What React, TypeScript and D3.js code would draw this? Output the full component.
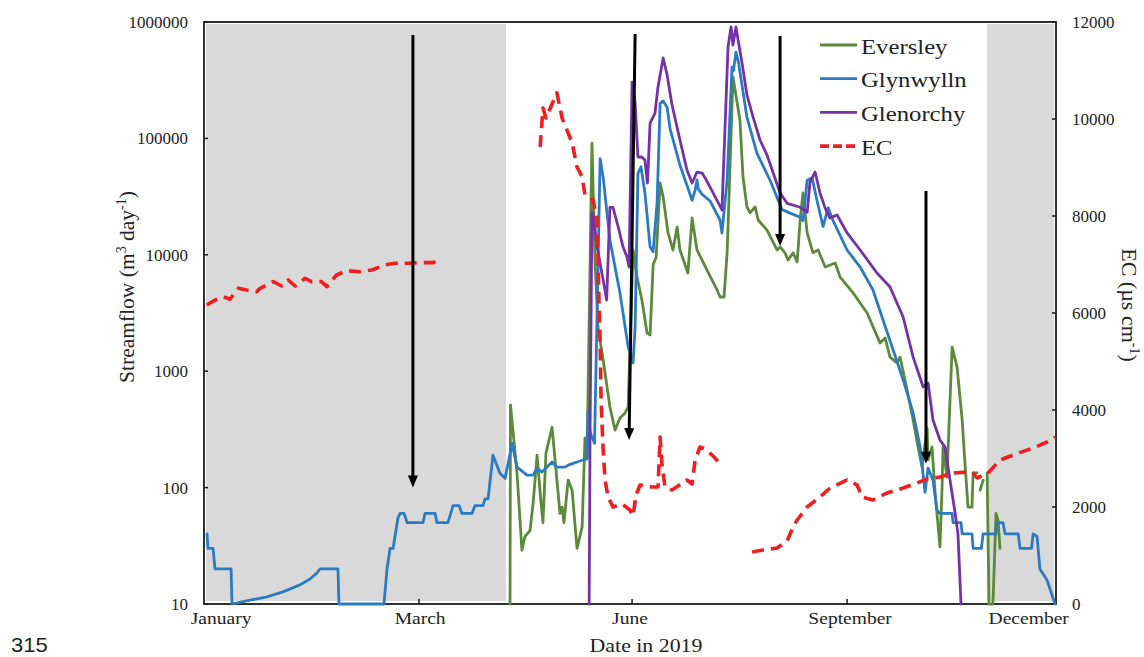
import React from 'react';
import * as d3 from 'd3';

// [day of 2019, value]; a null value breaks the line
type Pt = [number, number | null];

const monthLabels = ['January', 'March', 'June', 'September', 'December'];
const monthLabelDays = [7.3, 92.6, 182.5, 276.8, 353.3];
const monthTickDays = [92.1, 183.4, 275.5];
const flowTicks = [10, 100, 1000, 10000, 100000, 1000000];
const ecTicks = [0, 2000, 4000, 6000, 8000, 10000, 12000];
// shaded no-flow / dry periods (day ranges)
const dryPeriods: [number, number][] = [[0, 129.4], [335.5, 365]];

// streamflow, m3/day
const eversley: Pt[] = [
  [131.1, 10], [131.3, 513], [134.1, 133], [136.2, 29], [137.5, 38], [139.7, 43], [141.0, 74],
  [142.7, 190], [144.0, 90], [145.2, 50], [146.5, 198], [149.1, 330], [151.2, 116], [152.5, 60],
  [153.4, 68], [154.2, 50], [156.0, 116], [157.7, 95], [159.8, 30], [162.0, 46], [163.2, 267],
  [164.1, 183], [166.2, 91000], [167.5, 9020], [168.8, 2400], [171.0, 1250], [173.9, 492],
  [176.1, 312], [178.2, 396], [180.4, 438], [181.7, 492], [183.8, 11000], [185.5, 6440],
  [187.6, 4090], [189.8, 2130], [191.1, 2050], [192.4, 8170], [193.7, 9570], [195.4, 41400],
  [196.7, 31400], [198.8, 15400], [200.9, 11000], [202.7, 17300], [203.9, 11000], [207.3, 6980],
  [209.1, 20700], [211.2, 11000], [215.5, 7400], [219.8, 4990], [221.1, 4340], [222.8, 4340],
  [224.1, 10400], [224.5, 17300], [226.6, 337000], [229.6, 144000], [230.9, 46600], [232.6, 25800],
  [233.9, 22900], [236.1, 25800], [237.4, 19900], [241.2, 16300], [245.5, 11000], [246.8, 11700],
  [248.9, 10400], [250.2, 9020], [252.4, 10400], [254.1, 8670], [255.4, 19900], [256.6, 34000],
  [258.4, 15400], [260.9, 10400], [263.1, 11000], [266.1, 7850], [270.4, 8510], [272.5, 6440],
  [278.1, 4700], [284.1, 3160], [289.6, 1750], [291.8, 1930], [293.9, 1320], [296.9, 1180],
  [298.2, 1320], [301.2, 689], [303.8, 381], [305.9, 223], [307.6, 150], [309.8, 325], [310.2, 173],
  [311.9, 223], [313.2, 90], [315.3, 31], [316.2, 101], [316.6, 223], [318.3, 123], [320.5, 1610],
  [322.6, 1090], [324.8, 381], [326.0, 163], [327.3, 68], [329.0, 68], [329.5, 134], [331.2, 134],
  [331.8, null], [332.5, 95], [333.8, 116], [334.6, null], [335.5, 134], [336.3, 10], [338.0, 10],
  [339.3, 60], [340.2, 52], [341.0, 30],
];

const glynwylln: Pt[] = [
  [1.3, 40], [1.7, 30], [3.9, 30], [4.7, 20], [11.6, 20], [12.0, 10], [19.7, 10.8], [27.0, 11.5],
  [33.8, 12.7], [41.1, 14.6], [45.4, 16.4], [48.4, 18.5], [49.7, 20], [57.4, 20], [57.8, 10],
  [77.1, 10], [78.4, 20], [79.7, 30], [81.0, 30], [83.1, 55], [84.0, 60], [85.7, 60], [87.0, 50],
  [93.8, 50], [94.7, 60], [99.0, 60], [99.8, 50], [104.5, 50], [106.7, 70], [109.3, 70], [110.5, 60],
  [114.8, 60], [116.1, 70], [119.5, 70], [120.4, 80], [121.7, 80], [123.8, 190], [126.8, 133],
  [129.0, 120], [132.0, 240], [134.1, 150], [138.4, 128], [141.0, 128], [142.7, 147], [144.8, 136],
  [149.1, 166], [151.2, 150], [154.7, 150], [156.0, 156], [159.8, 166], [163.7, 176], [164.1, 176],
  [164.5, 450], [165.4, 300], [167.3, 240], [169.7, 67000], [171.0, 46500], [173.9, 13400],
  [178.2, 4700], [181.7, 1620], [183.8, 1180], [184.7, 2400], [185.9, 50000], [187.2, 57000],
  [188.9, 34000], [191.1, 11700], [192.4, 10600], [194.1, 27900], [195.4, 199000], [196.7, 210000],
  [198.4, 185000], [199.7, 120000], [203.9, 59000], [209.1, 29400], [210.4, 36000], [211.2, 44000],
  [211.7, 37000], [213.4, 33000], [216.8, 29000], [221.1, 19800], [221.9, 15400], [224.1, 43700],
  [226.2, 410000], [226.8, 380000], [227.9, 550000], [229.0, 447000], [232.6, 152000],
  [236.9, 74300], [242.5, 43700], [247.6, 24500], [251.1, 22800], [255.4, 21000], [256.6, 19700],
  [258.4, 43700], [260.5, 46000], [262.6, 29400], [265.2, 17500], [267.4, 25300], [269.5, 19700],
  [275.5, 11000], [281.1, 7850], [286.6, 4980], [290.9, 2750], [295.2, 1530], [299.5, 845],
  [303.8, 438], [306.8, 223], [308.9, 91], [310.2, 147], [312.3, 116], [314.0, 64], [315.3, 60],
  [320.5, 60], [320.9, 50], [324.3, 50], [324.8, 40], [329.0, 40], [329.5, 30], [333.0, 30],
  [333.8, 40], [339.3, 40], [339.8, 50], [342.3, 50], [343.2, 40], [348.8, 40], [349.6, 30],
  [354.5, 30], [355.2, 40], [356.9, 38], [358.1, 20], [361.2, 16], [364.6, 10],
];

const glenorchy: Pt[] = [
  [165.0, 10], [165.4, 332], [166.2, 22900], [167.1, 19700], [168.4, 11700], [171.0, 6080],
  [172.5, 4090], [173.9, 25600], [175.2, 25600], [177.4, 17500], [179.5, 11700], [181.2, 9580],
  [182.1, 7850], [183.4, 305000], [184.7, 201000], [185.9, 69200], [187.6, 69200], [188.9, 65200],
  [190.0, 41400], [191.1, 135000], [193.2, 165000], [194.5, 277000], [196.7, 491000],
  [198.4, 351000], [200.5, 194000], [203.9, 96900], [206.9, 53500], [209.1, 41400], [211.2, 51400],
  [213.4, 50400], [214.7, 45700], [216.8, 38200], [221.9, 24300], [224.5, 610000], [225.8, 906000],
  [226.6, 634000], [227.9, 906000], [228.8, 700000], [230.5, 445000], [232.6, 236000],
  [235.2, 153000], [238.2, 96900], [241.2, 71900], [246.8, 34000], [249.8, 27700], [255.4, 25600],
  [258.4, 23200], [259.6, 42200], [261.8, 51400], [263.9, 34000], [266.1, 25200], [268.2, 20700],
  [271.2, 22000], [275.5, 15400], [281.1, 11000], [288.3, 6980], [293.9, 5290], [299.5, 2920],
  [303.8, 1320], [308.1, 731], [310.2, 792], [312.3, 381], [315.3, 256], [317.5, 223], [319.6, 116],
  [321.8, 60], [323.0, 40], [324.3, 10],
];

// electrical conductivity, µs/cm
const ec: Pt[] = [
  [1.2, 6165], [4.0, 6248], [8.3, 6337], [11.1, 6283], [14.7, 6510], [18.3, 6475], [22.6, 6440],
  [24.0, 6510], [29.7, 6646], [33.3, 6557], [36.1, 6681], [39.0, 6557], [43.3, 6716], [46.1, 6646],
  [50.4, 6646], [52.6, 6543], [56.8, 6784], [61.1, 6873], [66.8, 6852], [71.9, 6887], [77.5, 6990],
  [81.8, 7025], [87.5, 7025], [92.5, 7038], [98.2, 7038], [101.1, 7128], [102, null],
  [144.0, 9423], [145.2, 10228], [146.5, 10021], [151.2, 10537], [153.4, 10021], [155.5, 9774],
  [157.7, 9506], [159.8, 9011], [162.0, 8805], [163.2, 8434], [166.7, 8330], [168.4, 7918],
  [169.2, 6268], [169.7, 5444], [170.1, 4206], [171.0, 3175], [171.8, 2557], [173.1, 2206],
  [175.2, 2000], [179.1, 2062], [182.5, 1938], [183.8, 1815], [185.1, 2248], [186.8, 2454],
  [191.9, 2413], [194.5, 2413], [195.4, 3444], [196.2, 2866], [197.5, 2413], [200.5, 2351],
  [201.8, 2392], [206.9, 2557], [209.1, 2474], [210.4, 2969], [212.5, 3237], [214.7, 3196],
  [218.1, 3052], [221.9, 2846], [223, null],
  [234.8, 1072], [239.5, 1113], [245.5, 1155], [249.8, 1299], [252.4, 1588], [254.1, 1732],
  [258.4, 2000], [263.9, 2206], [268.2, 2392], [275.5, 2557], [279.8, 2454], [281.9, 2206],
  [286.6, 2144], [292.6, 2289], [299.5, 2392], [305.5, 2495], [309.8, 2578], [315.3, 2619],
  [320.9, 2701], [326.9, 2722], [329.5, 2701], [331.2, 2598], [335.9, 2701], [341.0, 2969],
  [346.6, 3072], [355.2, 3217], [361.2, 3340], [364.6, 3444],
];

// annotation arrows: start/end as [day, streamflow]
const arrowFrom: [number, number][] = [[89.5, 773000], [184.7, 789000], [246.8, 759000], [309.3, 35300]];
const arrowTo: [number, number][] = [[89.5, 100], [182.1, 256], [246.8, 11900], [309.3, 160]];

const flowSeries = [
  { name: 'Eversley', data: eversley, color: '#5b8a3a' },
  { name: 'Glynwylln', data: glynwylln, color: '#2b7bc3' },
  { name: 'Glenorchy', data: glenorchy, color: '#7432a6' },
];
const ecColor = '#f01e1e';

const SERIF = "'Liberation Serif', 'Times New Roman', serif";

export default function App() {
  const W = 1144;
  const H = 657;
  const plot = { left: 204, right: 1056, top: 22, bottom: 604 };

  const x = d3.scaleLinear().domain([0, 365]).range([plot.left, plot.right]);
  const yFlow = d3.scaleLog().domain([10, 1e6]).range([plot.bottom, plot.top]);
  const yEc = d3.scaleLinear().domain([0, 12000]).range([plot.bottom, plot.top]);

  const flowLine = d3
    .line<Pt>()
    .defined((d) => d[1] != null)
    .x((d) => x(d[0]))
    .y((d) => yFlow(d[1] as number));
  const ecLine = d3
    .line<Pt>()
    .defined((d) => d[1] != null)
    .x((d) => x(d[0]))
    .y((d) => yEc(d[1] as number));

  const legendX0 = 820;
  const legendX1 = 857;
  const legendRow = (i: number) => 45 + i * 33.7;

  return (
    <svg
      width={W}
      height={H}
      viewBox={`0 0 ${W} ${H}`}
      style={{ position: 'absolute', left: 0, top: 0, background: '#fff' }}
      fontFamily={SERIF}
    >
      {/* shaded periods */}
      {dryPeriods.map(([a, b], i) => (
        <rect
          key={`dry${i}`}
          x={x(a) + (i === 0 ? 2 : 0)}
          y={plot.top + 2}
          width={x(b) - x(a) - 2}
          height={plot.bottom - plot.top - 5}
          fill="#d9d9d9"
        />
      ))}

      {/* frame */}
      <rect
        x={plot.left}
        y={plot.top}
        width={plot.right - plot.left}
        height={plot.bottom - plot.top}
        fill="none"
        stroke="#1a1a1a"
        strokeWidth={1.8}
      />

      {/* left axis ticks and labels */}
      {flowTicks.map((t) => (
        <g key={`f${t}`}>
          <line x1={plot.left} x2={plot.left + 4} y1={yFlow(t)} y2={yFlow(t)} stroke="#1a1a1a" strokeWidth={1.5} />
          <text x={188} y={yFlow(t)} dy="0.35em" textAnchor="end" fontSize={17} fill="#222">
            {t}
          </text>
        </g>
      ))}

      {/* right axis ticks and labels */}
      {ecTicks.map((t) => (
        <g key={`e${t}`}>
          <line x1={plot.right - 4} x2={plot.right} y1={yEc(t)} y2={yEc(t)} stroke="#1a1a1a" strokeWidth={1.5} />
          <text x={1072} y={yEc(t)} dy="0.35em" textAnchor="start" fontSize={17} fill="#222">
            {t}
          </text>
        </g>
      ))}

      {/* bottom ticks and month labels */}
      {monthTickDays.map((d) => (
        <line key={`t${d}`} x1={x(d)} x2={x(d)} y1={plot.bottom} y2={plot.bottom - 5} stroke="#1a1a1a" strokeWidth={1.5} />
      ))}
      {monthLabels.map((m, i) => (
        <text
          key={m}
          transform={`translate(${x(monthLabelDays[i])},624) scale(1.15,1)`}
          textAnchor="middle"
          fontSize={17}
          fill="#222"
        >
          {m}
        </text>
      ))}

      {/* axis titles */}
      <text transform="translate(646,652) scale(1.15,1)" textAnchor="middle" fontSize={19} fill="#222">
        Date in 2019
      </text>
      <text transform="translate(134,287) rotate(-90)" textAnchor="middle" fontSize={21.5} fill="#222">
        Streamflow (m
        <tspan dy={-8} fontSize={14}>3</tspan>
        <tspan dy={8}> day</tspan>
        <tspan dy={-8} fontSize={14}>-1</tspan>
        <tspan dy={8}>)</tspan>
      </text>
      <text transform="translate(1122,305) rotate(90)" textAnchor="middle" fontSize={22} fill="#222">
        EC (µs cm
        <tspan dy={-8} fontSize={14}>-1</tspan>
        <tspan dy={8}>)</tspan>
      </text>

      {/* streamflow series */}
      {flowSeries.map((s) => (
        <path
          key={s.name}
          d={flowLine(s.data) ?? ''}
          fill="none"
          stroke={s.color}
          strokeWidth={2.8}
          strokeLinejoin="round"
          strokeLinecap="round"
        />
      ))}

      {/* EC series */}
      <path
        d={ecLine(ec) ?? ''}
        fill="none"
        stroke={ecColor}
        strokeWidth={3.6}
        strokeDasharray="12 7"
        strokeLinejoin="round"
      />

      {/* arrows */}
      {arrowFrom.map((a, i) => {
        const x0 = x(a[0]);
        const y0 = yFlow(a[1]);
        const x1 = x(arrowTo[i][0]);
        const y1 = yFlow(arrowTo[i][1]);
        const len = Math.hypot(x1 - x0, y1 - y0);
        const ux = (x1 - x0) / len;
        const uy = (y1 - y0) / len;
        const head = 12;
        const half = 5;
        const bx = x1 - ux * head;
        const by = y1 - uy * head;
        const pts = [
          [x1, y1],
          [bx - uy * half, by + ux * half],
          [bx + uy * half, by - ux * half],
        ]
          .map((p) => p.join(','))
          .join(' ');
        return (
          <g key={`arr${i}`}>
            <line x1={x0} y1={y0} x2={bx + ux * 2} y2={by + uy * 2} stroke="#000" strokeWidth={3} />
            <polygon points={pts} fill="#000" />
          </g>
        );
      })}

      {/* legend */}
      {flowSeries.map((s, i) => (
        <g key={`lg${s.name}`}>
          <line x1={legendX0} x2={legendX1} y1={legendRow(i)} y2={legendRow(i)} stroke={s.color} strokeWidth={2.8} />
          <text transform={`translate(861,${legendRow(i) + 8.5}) scale(1.15,1)`} fontSize={21.5} fill="#222">
            {s.name}
          </text>
        </g>
      ))}
      <line
        x1={legendX0}
        x2={legendX1}
        y1={legendRow(3)}
        y2={legendRow(3)}
        stroke={ecColor}
        strokeWidth={3.6}
        strokeDasharray="9 4"
      />
      <text transform={`translate(861,${legendRow(3) + 8.5}) scale(1.15,1)`} fontSize={21.5} fill="#222">
        EC
      </text>

      {/* page number */}
      <text transform="translate(11,652) scale(1.1,1)" fontSize={20} fontFamily="'Liberation Sans', Arial, sans-serif" fill="#222">
        315
      </text>
    </svg>
  );
}
